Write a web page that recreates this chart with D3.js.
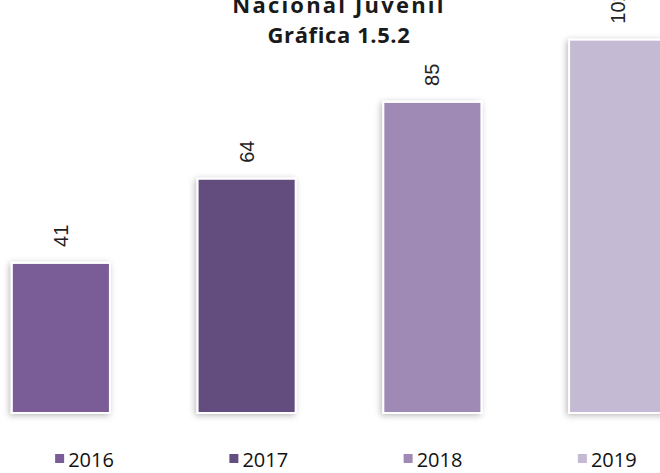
<!DOCTYPE html>
<html><head><meta charset="utf-8">
<script src="https://cdn.jsdelivr.net/npm/d3@7"></script>
<style>html,body{margin:0;padding:0;background:#fff;overflow:hidden}</style>
</head><body>
<script>
const categories = ["2016","2017","2018","2019"];
const values = [41, 64, 85, 102];
const colors = ["#7a5c96","#644d7f","#9e8ab5","#c4bad3"];
const titleLines = ["Nacional Juvenil","Gráfica 1.5.2"];

const W = 660, H = 473;
const svg = d3.select("body").append("svg").attr("width", W).attr("height", H);

const defs = svg.append("defs");
const f = defs.append("filter").attr("id","sh").attr("x","-20%").attr("y","-20%").attr("width","140%").attr("height","140%");
f.append("feDropShadow").attr("dx",-1.5).attr("dy",1.5).attr("stdDeviation",3).attr("flood-color","#000").attr("flood-opacity",0.28);

const x = d3.scaleBand().domain(categories).range([-32, 711]).paddingInner(0.472).paddingOuter(0.236);
const y = d3.scaleLinear().domain([0, 100]).range([413, 47]);

svg.selectAll("rect.bar").data(values).join("rect")
  .attr("class","bar")
  .attr("x",(d,i)=>x(categories[i]))
  .attr("y",d=>y(d))
  .attr("width",x.bandwidth())
  .attr("height",d=>y(0)-y(d))
  .attr("fill",(d,i)=>colors[i])
  .attr("stroke","#fff").attr("stroke-width",2)
  .attr("filter","url(#sh)");

svg.selectAll("text.val").data(values).join("text")
  .attr("class","val")
  .attr("transform",(d,i)=>`translate(${x(categories[i])+x.bandwidth()/2},${y(d)-16}) rotate(-90)`)
  .attr("dy","0.35em")
  .attr("text-anchor","start")
  .attr("font-family","Liberation Sans, Arial, sans-serif")
  .attr("font-size",20)
  .attr("fill","#222")
  .text(d=>d);

svg.selectAll("text.title").data(titleLines).join("text")
  .attr("class","title")
  .attr("x",339).attr("y",(d,i)=>13+i*30)
  .attr("text-anchor","middle")
  .attr("font-family","Open Sans, sans-serif")
  .attr("font-weight",700)
  .attr("font-size",22)
  .attr("letter-spacing",(d,i)=>i===0?2.2:0.6)
  .attr("fill","#1a1a1a")
  .text(d=>d);

const lx = d3.scaleBand().domain(categories).range([-3, 694]);
const lg = svg.selectAll("g.leg").data(categories).join("g")
  .attr("class","leg")
  .attr("transform",d=>`translate(${lx(d)+lx.bandwidth()/2-29},0)`);
lg.append("rect").attr("x",0).attr("y",454).attr("width",9).attr("height",9)
  .attr("fill",(d,i)=>colors[i]);
lg.append("text").attr("x",13).attr("y",467)
  .attr("font-family","Open Sans, sans-serif").attr("font-size",20).attr("fill","#111")
  .text(d=>d);
</script>
</body></html>
